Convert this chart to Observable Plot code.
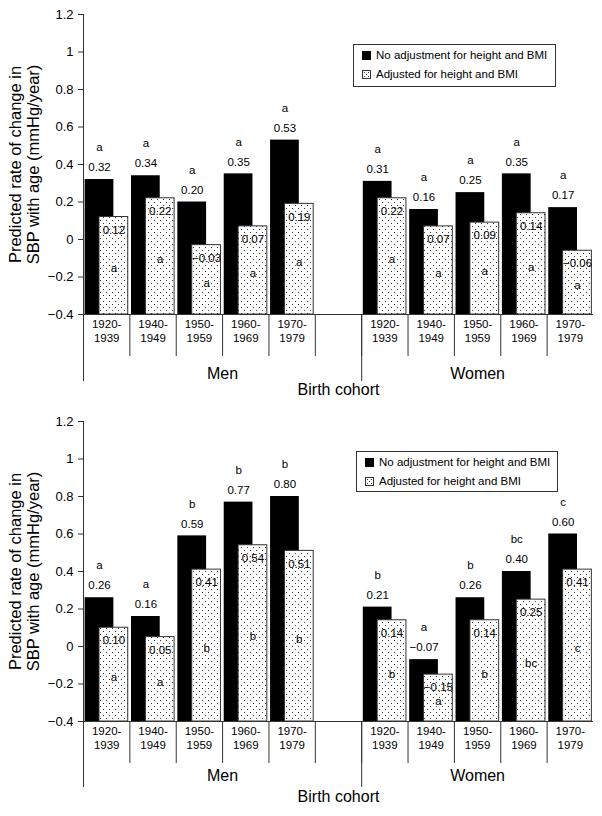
<!DOCTYPE html>
<html>
<head>
<meta charset="utf-8">
<script src="https://cdn.jsdelivr.net/npm/d3@7"></script>
<script src="https://cdn.jsdelivr.net/npm/@observablehq/plot@0.6"></script>
<style>
  body { margin: 0; background: #fff; font-family: "Liberation Sans", Arial, sans-serif; }
  #wrap { position: relative; width: 602px; height: 816px; }
  #wrap svg.plot { display: block; }
  .legend { position: absolute; border: 1px solid #333; background: #fff; font-size: 11.5px;
            color: #000; padding: 1px 8px 3px 8px; box-sizing: border-box; }
  .legend .row { height: 19px; line-height: 19px; display: flex; align-items: center; white-space: nowrap; }
  .legend .sw { width: 9px; height: 9px; margin-right: 5px; flex: none; }
</style>
</head>
<body>
<div id="wrap"></div>
<script>
// ---- Data ----
const cohorts = ["1920-1939", "1940-1949", "1950-1959", "1960-1969", "1970-1979"];
const sexes = ["Men", "Women"];
const seriesNames = ["No adjustment for height and BMI", "Adjusted for height and BMI"];
const yTicks = [-0.4, -0.2, 0, 0.2, 0.4, 0.6, 0.8, 1, 1.2];

// Panel 1
const p1UnadjMen   = [0.32, 0.34, 0.20, 0.35, 0.53];
const p1UnadjWomen = [0.31, 0.16, 0.25, 0.35, 0.17];
const p1AdjMen     = [0.12, 0.22, -0.03, 0.07, 0.19];
const p1AdjWomen   = [0.22, 0.07, 0.09, 0.14, -0.06];
const p1LetterMen   = ["a", "a", "a", "a", "a"];
const p1LetterWomen = ["a", "a", "a", "a", "a"];

// Panel 2
const p2UnadjMen   = [0.26, 0.16, 0.59, 0.77, 0.80];
const p2UnadjWomen = [0.21, -0.07, 0.26, 0.40, 0.60];
const p2AdjMen     = [0.10, 0.05, 0.41, 0.54, 0.51];
const p2AdjWomen   = [0.14, -0.15, 0.14, 0.25, 0.41];
const p2LetterMen   = ["a", "a", "b", "b", "b"];
const p2LetterWomen = ["b", "a", "b", "bc", "c"];

const fmt = d3.format(".2f");
const yFmt = d => { const r = Math.round(d * 10) / 10; return r < 0 ? "\u2212" + Math.abs(r) : String(r); };

function buildRows(unadj, adj, letters) {
  const rows = [];
  sexes.forEach((s, si) => {
    cohorts.forEach((c, ci) => {
      rows.push({
        sex: s, cohort: c, slot: si * 6 + ci,
        unadj: unadj[si][ci], adj: adj[si][ci],
        letterU: letters[si][ci], letterA: letters[si][ci]
      });
    });
  });
  return rows;
}

function makeChart(rows, marginTop, patId, groupDy, longTick) {
  const base = -0.4;
  const cats = rows.map(d => ({slot: d.slot, label: d.cohort.replace("-", "-\n")}));
  const groups = sexes.map((s, i) => ({x: i === 0 ? 3 : 8.5, label: s}));
  const svg = Plot.plot({
    width: 602,
    height: 408,
    marginLeft: 83,
    marginRight: 9,
    marginTop: marginTop,
    marginBottom: 408 - marginTop - 300,
    x: {domain: [0, 11], axis: null},
    y: {domain: [-0.4, 1.2], axis: null},
    style: {fontFamily: "'Liberation Sans', Arial, sans-serif", fontSize: "11px", color: "#000", background: "#fff"},
    marks: [
      Plot.rect(rows, {x1: d => d.slot + 0.035, x2: d => d.slot + 0.655, y1: base, y2: "unadj", fill: "#000"}),
      Plot.rect(rows, {x1: d => d.slot + 0.345, x2: d => d.slot + 0.965, y1: base, y2: "adj",
                       fill: `url(#${patId})`, stroke: "#333", strokeWidth: 1}),
      // labels for unadjusted
      Plot.text(rows, {x: d => d.slot + 0.345, y: "unadj", text: d => fmt(d.unadj), dy: -12, fontSize: 11.5}),
      Plot.text(rows, {x: d => d.slot + 0.345, y: "unadj", text: "letterU", dy: -32, fontSize: 11.5}),
      // labels for adjusted
      Plot.text(rows, {x: d => d.slot + 0.655, y: "adj", text: d => fmt(d.adj), dy: 13, fontSize: 11.5}),
      Plot.text(rows, {x: d => d.slot + 0.655, y: d => (d.adj + base) / 2, text: "letterA", dy: 3, fontSize: 11.5}),
      // axes
      Plot.ruleY([base], {stroke: "#333", strokeWidth: 1}),
      Plot.ruleX([0], {stroke: "#333", strokeWidth: 1}),
      Plot.axisY({ticks: yTicks, tickFormat: yFmt, tickSize: 5, tickPadding: 5, fontSize: 13, stroke: "#333", label: null}),
      Plot.axisX({ticks: d3.range(0, 11), tickSize: 42, tickFormat: () => "", stroke: "#333", label: null}),
      Plot.axisX({ticks: [0, 6], tickSize: longTick, tickFormat: () => "", stroke: "#333", label: null}),
      Plot.text(cats, {x: d => d.slot + 0.5, frameAnchor: "bottom", dy: 27, text: "label", fontSize: 11.5, lineHeight: 1.2}),
      Plot.text(groups, {x: "x", frameAnchor: "bottom", dy: groupDy, text: "label", fontSize: 16}),
      Plot.text(["Birth cohort"], {frameAnchor: "bottom", dy: 80, fontSize: 16}),
      Plot.text(["Predicted rate of change in\nSBP with age (mmHg/year)"], {frameAnchor: "left", textAnchor: "middle", dx: -59, rotate: -90, fontSize: 16.5, lineHeight: 1.1})
    ]
  });
  // pattern defs
  const ns = "http://www.w3.org/2000/svg";
  const defs = document.createElementNS(ns, "defs");
  const pat = document.createElementNS(ns, "pattern");
  pat.setAttribute("id", patId);
  pat.setAttribute("patternUnits", "userSpaceOnUse");
  pat.setAttribute("width", "6");
  pat.setAttribute("height", "6");
  const bg = document.createElementNS(ns, "rect");
  bg.setAttribute("width", "6"); bg.setAttribute("height", "6"); bg.setAttribute("fill", "#fff");
  pat.appendChild(bg);
  [[1, 1], [4, 4]].forEach(([x, y]) => {
    const r = document.createElementNS(ns, "rect");
    r.setAttribute("x", x); r.setAttribute("y", y); r.setAttribute("width", "1"); r.setAttribute("height", "1");
    r.setAttribute("fill", "#333");
    pat.appendChild(r);
  });
  defs.appendChild(pat);
  svg.insertBefore(defs, svg.firstChild);
  return svg;
}

function makeLegend(left, top, width, height) {
  const lg = document.createElement("div");
  lg.className = "legend";
  Object.assign(lg.style, {left: left + "px", top: top + "px", width: width + "px", height: height + "px"});
  const r1 = document.createElement("div"); r1.className = "row";
  r1.innerHTML = `<span class="sw" style="background:#000"></span><span>${seriesNames[0]}</span>`;
  const r2 = document.createElement("div"); r2.className = "row";
  r2.innerHTML = `<svg class="sw" width="9" height="9" viewBox="0 0 9 9"><rect x="0.5" y="0.5" width="8" height="8" fill="#fff" stroke="#333"/><rect x="2" y="2" width="1" height="1" fill="#333"/><rect x="6" y="2" width="1" height="1" fill="#333"/><rect x="4" y="4" width="1" height="1" fill="#333"/><rect x="2" y="6" width="1" height="1" fill="#333"/><rect x="6" y="6" width="1" height="1" fill="#333"/></svg><span>${seriesNames[1]}</span>`;
  lg.appendChild(r1); lg.appendChild(r2);
  return lg;
}

const wrap = document.getElementById("wrap");
const rows1 = buildRows([p1UnadjMen, p1UnadjWomen], [p1AdjMen, p1AdjWomen], [p1LetterMen, p1LetterWomen]);
const rows2 = buildRows([p2UnadjMen, p2UnadjWomen], [p2AdjMen, p2AdjWomen], [p2LetterMen, p2LetterWomen]);
wrap.appendChild(makeChart(rows1, 14, "dots1", 64, 67));
wrap.appendChild(makeChart(rows2, 13, "dots2", 59, 66));
wrap.appendChild(makeLegend(353, 44, 203, 43));
wrap.appendChild(makeLegend(356, 451, 202, 41));
</script>
</body>
</html>
